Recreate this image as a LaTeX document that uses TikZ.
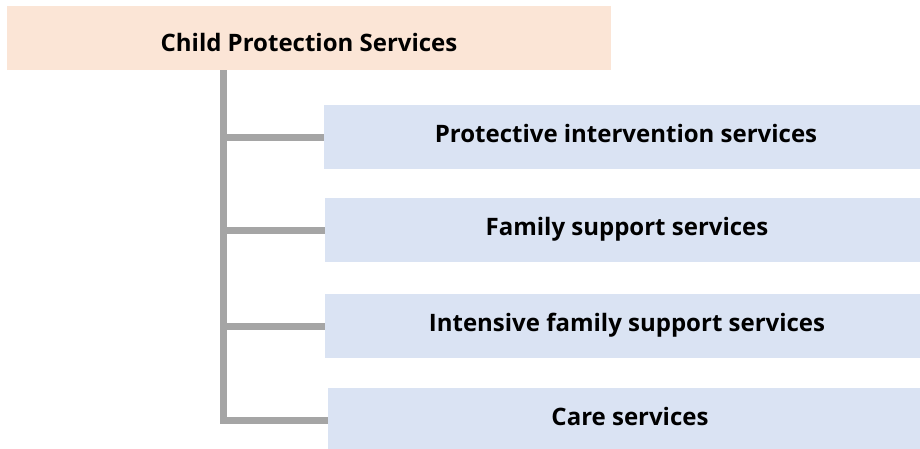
\documentclass[tikz,border=0pt]{standalone}
\usepackage{fontspec}
\setmainfont{Open Sans}
\usetikzlibrary{positioning}
\definecolor{peach}{HTML}{FBE5D6}
\definecolor{paleblue}{HTML}{DAE3F3}
\definecolor{linegray}{HTML}{A5A5A5}

\begin{document}
\begin{tikzpicture}[x=1pt,y=-1pt,
    topbox/.style={fill=peach, minimum width=604pt, minimum height=64pt, inner sep=0pt,
      text height=28pt, text depth=2pt, font=\fontsize{24}{28}\selectfont\bfseries},
    servicebox/.style={fill=paleblue, minimum width=604pt, minimum height=64pt, inner sep=0pt,
      text height=17pt, text depth=6pt, font=\fontsize{24}{28}\selectfont\bfseries},
    branch/.style={draw=linegray, line width=7pt}]
    \useasboundingbox (0,0) rectangle (920,448);
    \clip (0,0) rectangle (920,448);
    % Top level
    \node[topbox] (cps) at (309,38) {Child Protection Services};
    % Services
    \node[servicebox] (pis) at (626,137) {Protective intervention services};
    \node[servicebox] (fss) at (627,230) {Family support services};
    \node[servicebox] (ifss) at (627,326) {Intensive family support services};
    \node[servicebox] (cs) at (630,420) {Care services};
    % Trunk
    \coordinate (trunk) at (223,70);
    \draw[branch] (trunk) |- (cs.west);
    % Branches
    \foreach \s in {pis,fss,ifss} {
      \draw[branch] (trunk |- \s.west) -- (\s.west);
    }
\end{tikzpicture}
\end{document}
